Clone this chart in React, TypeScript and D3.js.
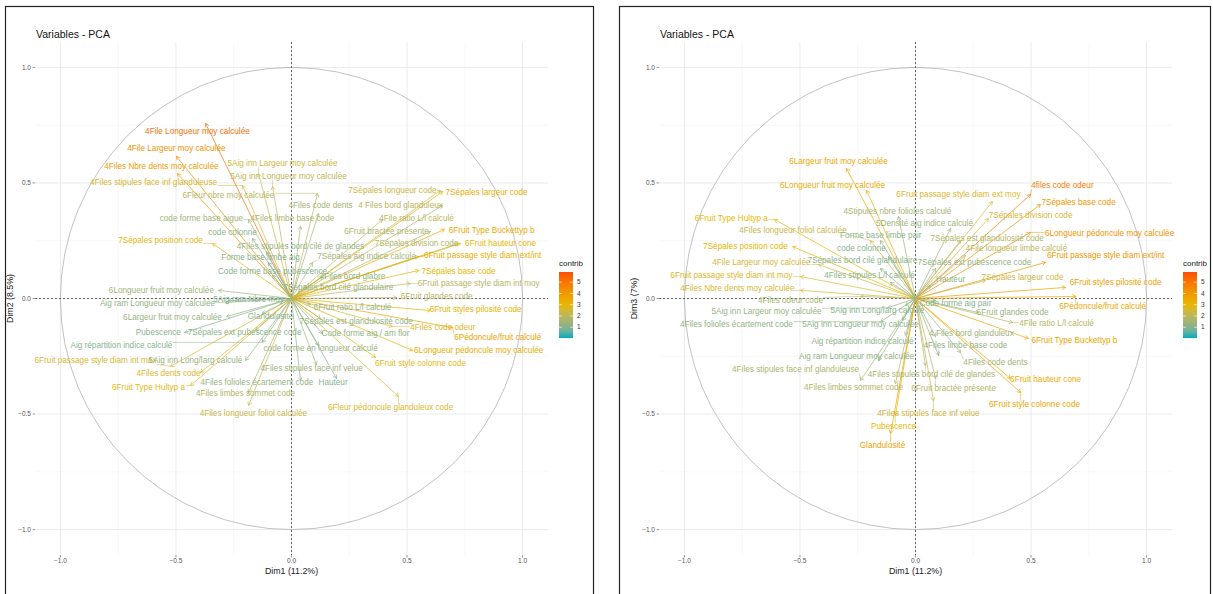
import React, { useRef, useEffect } from "react";
import * as d3 from "d3";

// [variable, dim x coord, dim y coord, contrib, label x, label y] (label = repelled text position)
type Row = [string, number, number, number, number, number];

const dim12Vars: Row[] = [
  ["4File Longueur moy calculée", -0.372, 0.758, 5.2, -0.407, 0.723],
  ["4File Largeur moy calculée", -0.498, 0.615, 4.2, -0.498, 0.649],
  ["4Files Nbre dents moy calculée", -0.494, 0.541, 3.9, -0.563, 0.571],
  ["4Files stipules face inf glanduleuse", -0.212, 0.489, 2.6, -0.597, 0.502],
  ["5Aig inn Largeur moy calculée", -0.143, 0.541, 2.4, -0.039, 0.584],
  ["5Aig inn Longueur moy calculée", -0.082, 0.485, 2.1, -0.013, 0.528],
  ["6Fleur nbre moy calculée", 0.113, 0.455, 1.9, -0.273, 0.446],
  ["code forme base aigue", -0.186, 0.342, 1.4, -0.39, 0.346],
  ["4Files limbe base code", 0.039, 0.312, 1.6, 0.004, 0.346],
  ["code colonne", -0.169, 0.26, 1.1, -0.255, 0.286],
  ["7Sépales position code", -0.342, 0.238, 2.9, -0.567, 0.251],
  ["4Files stipules bord cilé de glandes", -0.108, 0.203, 1.3, 0.039, 0.225],
  ["Forme base limbe aig", -0.1, 0.156, 1.0, -0.134, 0.177],
  ["7Sépales aig indice calculé", 0.091, 0.156, 1.5, 0.325, 0.182],
  ["Code forme base pubescence", -0.082, 0.1, 1.0, -0.082, 0.117],
  ["4Files bord glabre", 0.134, 0.095, 1.2, 0.264, 0.095],
  ["7Sépales bord cilé glandulaire", 0.065, 0.052, 1.3, 0.203, 0.048],
  ["7Sépales longueur code", 0.645, 0.468, 2.4, 0.437, 0.468],
  ["7Sépales largeur code", 0.654, 0.463, 3.3, 0.844, 0.459],
  ["4Files code dents", 0.117, 0.368, 1.5, 0.126, 0.403],
  ["4 Files bord glanduleux", 0.654, 0.403, 1.9, 0.472, 0.403],
  ["4File ratio L/l calculé", 0.394, 0.342, 2.0, 0.541, 0.346],
  ["6Fruit bractée présente", 0.602, 0.29, 1.7, 0.411, 0.29],
  ["6Fruit Type Buckettyp b", 0.662, 0.299, 3.5, 0.866, 0.294],
  ["7Sépales division code", 0.723, 0.238, 1.8, 0.541, 0.238],
  ["6Fruit hauteur cone", 0.732, 0.238, 3.0, 0.905, 0.238],
  ["6Fruit passage style diam ext/int", 0.55, 0.182, 3.3, 0.827, 0.186],
  ["7Sépales base code", 0.55, 0.121, 3.0, 0.723, 0.117],
  ["6Fruit passage style diam int moy", 0.515, 0.065, 1.9, 0.81, 0.065],
  ["6Fruit glandes code", 0.455, 0.004, 1.8, 0.628, 0.009],
  ["6Fruit styles pilosité code", 0.602, -0.052, 3.1, 0.797, -0.048],
  ["7Sépales est glandulosité code", 0.126, -0.087, 1.2, 0.28, -0.098],
  ["4Files code odeur", 0.437, -0.121, 2.7, 0.655, -0.126],
  ["6Pédoncule/fruit calculé", 0.697, -0.126, 3.7, 0.892, -0.169],
  ["Code forme aig / am flor", 0.134, -0.152, 1.2, 0.32, -0.152],
  ["6Longueur pédoncule moy calculée", 0.524, -0.225, 3.3, 0.81, -0.225],
  ["code forme en longueur calculé", 0.117, -0.203, 1.3, 0.126, -0.216],
  ["6Fruit style colonne code", 0.364, -0.255, 2.9, 0.558, -0.281],
  ["4Files stipules face inf velue", 0.108, -0.286, 1.4, 0.087, -0.303],
  ["4Files folioles écartement code", 0.039, -0.355, 1.3, -0.15, -0.364],
  ["Hauteur", 0.195, -0.346, 1.0, 0.18, -0.364],
  ["4Files limbes sommet code", -0.186, -0.407, 1.7, -0.199, -0.411],
  ["6Fleur pédoncule glanduleux code", 0.463, -0.424, 2.7, 0.429, -0.468],
  ["4Files longueur foliol calculée", -0.186, -0.463, 2.3, -0.165, -0.498],
  ["6Longueur fruit moy calculée", -0.316, 0.035, 1.4, -0.563, 0.035],
  ["Aig ram Longueur moy calculée", -0.286, -0.017, 1.2, -0.58, -0.022],
  ["5Aig ram Nbre moy", -0.273, -0.009, 1.0, -0.186, -0.004],
  ["6Largeur fruit moy calculée", -0.281, -0.078, 1.3, -0.515, -0.082],
  ["Pubescence", -0.463, -0.147, 1.0, -0.576, -0.147],
  ["7Sépales ext pubescence code", -0.156, -0.139, 1.1, -0.203, -0.147],
  ["Aig répartition indice calculé", -0.126, -0.19, 1.0, -0.736, -0.203],
  ["6Fruit passage style diam int max", -0.524, -0.294, 2.6, -0.848, -0.268],
  ["5Aig inn Long/larg calculé", -0.199, -0.268, 1.3, -0.416, -0.268],
  ["4Files dents code", -0.394, -0.32, 2.7, -0.532, -0.325],
  ["6Fruit Type Hultyp a", -0.437, -0.377, 2.8, -0.619, -0.385],
  ["Glandulosité", -0.126, -0.065, 1.1, -0.091, -0.078],
  ["6Fruit ratio L/l calculé", 0.082, -0.026, 1.2, 0.264, -0.039],
];

const dim13Vars: Row[] = [
  ["6Largeur fruit moy calculée", -0.299, 0.563, 3.5, -0.333, 0.593],
  ["6Longueur fruit moy calculée", -0.212, 0.468, 3.3, -0.359, 0.489],
  ["6Fruit passage style diam ext moy", 0.333, 0.42, 2.7, 0.186, 0.45],
  ["4Stipules nbre folioles calculé", -0.074, 0.355, 1.5, -0.078, 0.377],
  ["5Densité aig indice calculé", 0.152, 0.303, 1.4, 0.039, 0.325],
  ["6Fruit Type Hultyp a", -0.61, 0.342, 3.0, -0.797, 0.346],
  ["4Files longueur foliol calculée", -0.195, 0.251, 2.3, -0.53, 0.294],
  ["Forme base limbe pair", -0.152, 0.251, 1.1, -0.15, 0.275],
  ["7Sépales position code", -0.532, 0.225, 3.1, -0.736, 0.225],
  ["code colonne", -0.117, 0.182, 1.0, -0.234, 0.216],
  ["4File Largeur moy calculée", -0.42, 0.147, 2.5, -0.667, 0.156],
  ["7Sépales bord cilé glandulaire", -0.152, 0.13, 1.1, -0.23, 0.165],
  ["7Sépales ext pubescence code", 0.087, 0.13, 1.2, 0.255, 0.156],
  ["6Fruit passage style diam int moy", -0.498, 0.095, 2.7, -0.797, 0.1],
  ["4Files stipules L/l calculé", -0.108, 0.069, 1.1, -0.199, 0.1],
  ["4Files Nbre dents moy calculée", -0.498, 0.035, 2.6, -0.771, 0.043],
  ["4Files odeur code", -0.238, 0.009, 1.6, -0.541, -0.009],
  ["5Aig inn Largeur moy calculée", -0.12, -0.04, 1.3, -0.645, -0.056],
  ["5Aig inn Long/larg calculé", -0.043, -0.03, 1.0, -0.165, -0.052],
  ["4Files folioles écartement code", -0.15, -0.1, 1.2, -0.775, -0.113],
  ["5Aig inn Longueur moy calculée", -0.056, -0.095, 1.1, -0.238, -0.113],
  ["Aig répartition indice calculé", -0.043, -0.16, 1.1, -0.229, -0.186],
  ["Aig ram Longueur moy calculée", -0.16, -0.268, 1.2, -0.255, -0.251],
  ["4Files stipules face inf glanduleuse", -0.238, -0.355, 1.7, -0.519, -0.307],
  ["4Files limbes sommet code", -0.087, -0.368, 1.8, -0.268, -0.385],
  ["4Files stipules bord cilé de glandes", 0.043, -0.29, 1.6, 0.069, -0.329],
  ["6Fruit bractée présente", 0.087, -0.346, 1.8, 0.165, -0.39],
  ["4Files stipules face inf velue", 0.078, -0.442, 2.4, 0.056, -0.498],
  ["Pubescence", -0.087, -0.506, 3.0, -0.095, -0.554],
  ["Glandulosité", -0.108, -0.584, 3.8, -0.143, -0.636],
  ["4 Files bord glanduleux", 0.087, -0.165, 1.4, 0.242, -0.152],
  ["4Files limbe base code", 0.1, -0.247, 1.2, 0.216, -0.203],
  ["4Files code dents", 0.195, -0.234, 1.4, 0.346, -0.277],
  ["6Fruit hauteur cone", 0.411, -0.346, 3.4, 0.563, -0.351],
  ["6Fruit style colonne code", 0.455, -0.407, 3.6, 0.515, -0.459],
  ["6Fruit glandes code", 0.273, -0.061, 1.4, 0.42, -0.061],
  ["4File ratio L/l calculé", 0.42, -0.104, 1.9, 0.61, -0.108],
  ["6Fruit Type Buckettyp b", 0.489, -0.173, 3.6, 0.688, -0.182],
  ["6Pédoncule/fruit calculé", 0.693, 0.009, 3.5, 0.81, -0.035],
  ["6Fruit styles pilosité code", 0.649, 0.048, 3.8, 0.866, 0.069],
  ["6Fruit passage style diam ext/int", 0.563, 0.156, 4.0, 0.823, 0.186],
  ["6Longueur pédoncule moy calculée", 0.498, 0.286, 4.1, 0.84, 0.281],
  ["4files code odeur", 0.498, 0.45, 4.8, 0.636, 0.489],
  ["7Sépales base code", 0.541, 0.407, 4.1, 0.706, 0.416],
  ["7Sépales division code", 0.316, 0.346, 2.6, 0.498, 0.359],
  ["7Sépales est glandulosité code", 0.195, 0.251, 1.8, 0.31, 0.262],
  ["4File longueur limbe calculé", 0.216, 0.186, 2.0, 0.437, 0.216],
  ["7Sépales largeur code", 0.303, 0.078, 2.3, 0.463, 0.091],
  ["Code forme aig pair", 0.087, -0.009, 1.0, 0.173, -0.022],
  ["Hauteur", 0.065, 0.056, 1.1, 0.152, 0.082],
];

const majorTicks = [-1, -0.5, 0, 0.5, 1];
const minorTicks = [-0.75, -0.25, 0.25, 0.75];
const legendTicks = [1, 2, 3, 4, 5];
const contribDomain = [0.05, 2.98, 5.9];
const contribColors = ["#00AFBB", "#E7B800", "#FC4E07"];

const panels = [
  { title: "Variables - PCA", xLab: "Dim1 (11.2%)", yLab: "Dim2 (8.5%)", rows: dim12Vars, shift: 0, box: [5, 593] },
  { title: "Variables - PCA", xLab: "Dim1 (11.2%)", yLab: "Dim3 (7%)", rows: dim13Vars, shift: 624, box: [619, 1210] },
];

const FONT = "'Liberation Sans', Arial, sans-serif";

export default function App() {
  const svgRef = useRef<SVGSVGElement>(null);

  useEffect(() => {
    document.body.style.margin = "0";
    const svg = d3.select(svgRef.current);
    svg.selectAll("*").remove();

    const color = d3.scaleLinear<string>().domain(contribDomain).range(contribColors).interpolate(d3.interpolateLab).clamp(true);

    panels.forEach((p, pi) => {
      // panel frame
      svg.append("rect")
        .attr("x", p.box[0] + 0.5).attr("y", 6.5)
        .attr("width", p.box[1] - p.box[0]).attr("height", 620)
        .attr("fill", "#fff").attr("stroke", "#222").attr("stroke-width", 1.2);

      const g = svg.append("g").attr("transform", `translate(${p.shift},0)`);
      const x = d3.scaleLinear().domain([-1.11, 1.11]).range([35, 548]);
      const y = d3.scaleLinear().domain([-1.11, 1.11]).range([555, 42]);

      // grid
      const grid = g.append("g");
      minorTicks.forEach(t => {
        grid.append("line").attr("x1", x(t)).attr("x2", x(t)).attr("y1", 42).attr("y2", 555).attr("stroke", "#f2f2f2").attr("stroke-width", 0.6);
        grid.append("line").attr("y1", y(t)).attr("y2", y(t)).attr("x1", 35).attr("x2", 548).attr("stroke", "#f2f2f2").attr("stroke-width", 0.6);
      });
      majorTicks.forEach(t => {
        grid.append("line").attr("x1", x(t)).attr("x2", x(t)).attr("y1", 42).attr("y2", 555).attr("stroke", "#ebebeb").attr("stroke-width", 1);
        grid.append("line").attr("y1", y(t)).attr("y2", y(t)).attr("x1", 35).attr("x2", 548).attr("stroke", "#ebebeb").attr("stroke-width", 1);
      });

      // axes ticks and labels
      const fmt = d3.format(".1f");
      majorTicks.forEach(t => {
        g.append("line").attr("x1", x(t)).attr("x2", x(t)).attr("y1", 555).attr("y2", 557.5).attr("stroke", "#555").attr("stroke-width", 0.6);
        g.append("text").attr("x", x(t)).attr("y", 563).attr("text-anchor", "middle")
          .attr("font-size", 6.5).attr("fill", "#555").text(fmt(t));
        g.append("line").attr("x1", 32.5).attr("x2", 35).attr("y1", y(t)).attr("y2", y(t)).attr("stroke", "#555").attr("stroke-width", 0.6);
        g.append("text").attr("x", 31).attr("y", y(t) + 2.2).attr("text-anchor", "end")
          .attr("font-size", 6.5).attr("fill", "#555").text(fmt(t));
      });
      g.append("text").attr("x", x(0)).attr("y", 574).attr("text-anchor", "middle").attr("font-size", 8.8).attr("fill", "#222").text(p.xLab);
      g.append("text").attr("transform", `translate(13,${y(0)}) rotate(-90)`).attr("text-anchor", "middle").attr("font-size", 8.8).attr("fill", "#222").text(p.yLab);
      g.append("text").attr("x", 36).attr("y", 38).attr("font-size", 10.5).attr("fill", "#111").text(p.title);

      // correlation circle and zero lines
      g.append("circle").attr("cx", x(0)).attr("cy", y(0)).attr("r", x(1) - x(0))
        .attr("fill", "none").attr("stroke", "#a8a8a8").attr("stroke-width", 0.7);
      g.append("line").attr("x1", x(0)).attr("x2", x(0)).attr("y1", 42).attr("y2", 555).attr("stroke", "#444").attr("stroke-width", 0.8).attr("stroke-dasharray", "2,2");
      g.append("line").attr("y1", y(0)).attr("y2", y(0)).attr("x1", 35).attr("x2", 548).attr("stroke", "#444").attr("stroke-width", 0.8).attr("stroke-dasharray", "2,2");

      // arrows
      const arrows = g.append("g");
      p.rows.forEach(([, vx, vy, c]) => {
        const x1 = x(vx), y1 = y(vy), x0 = x(0), y0 = y(0);
        const col = color(c);
        arrows.append("line").attr("x1", x0).attr("y1", y0).attr("x2", x1).attr("y2", y1)
          .attr("stroke", col).attr("stroke-width", 0.7);
        const ang = Math.atan2(y1 - y0, x1 - x0);
        const h = 4;
        const a1 = ang + Math.PI - Math.PI / 6, a2 = ang + Math.PI + Math.PI / 6;
        arrows.append("path")
          .attr("d", `M${x1 + h * Math.cos(a1)},${y1 + h * Math.sin(a1)}L${x1},${y1}L${x1 + h * Math.cos(a2)},${y1 + h * Math.sin(a2)}`)
          .attr("fill", "none").attr("stroke", col).attr("stroke-width", 0.7);
      });

      // labels with repel segments
      const labels = g.append("g");
      p.rows.forEach(([name, vx, vy, c, lx, ly]) => {
        const col = color(c);
        const t = labels.append("text").attr("x", x(lx)).attr("y", y(ly)).attr("dy", "0.35em")
          .attr("text-anchor", "middle").attr("font-size", 8.2).attr("fill", col).text(name);
        const bb = (t.node() as SVGTextElement).getBBox();
        const tx = x(vx), ty = y(vy);
        const cx = Math.max(bb.x, Math.min(tx, bb.x + bb.width));
        const cy = Math.max(bb.y + 1, Math.min(ty, bb.y + bb.height - 1));
        if (Math.hypot(tx - cx, ty - cy) > 5) {
          labels.insert("line", ":first-child").attr("x1", cx).attr("y1", cy).attr("x2", tx).attr("y2", ty)
            .attr("stroke", col).attr("stroke-width", 0.5);
        }
      });

      // legend
      const ly = d3.scaleLinear().domain([contribDomain[0], contribDomain[2]]).range([338, 272]);
      const gid = `contrib-grad-${pi}`;
      const grad = svg.append("defs").append("linearGradient").attr("id", gid)
        .attr("x1", 0).attr("y1", 1).attr("x2", 0).attr("y2", 0);
      d3.range(0, 1.0001, 0.1).forEach(f => {
        const v = contribDomain[0] + f * (contribDomain[2] - contribDomain[0]);
        grad.append("stop").attr("offset", f).attr("stop-color", color(v));
      });
      const leg = g.append("g");
      leg.append("text").attr("x", 559).attr("y", 266).attr("font-size", 8).attr("fill", "#222").text("contrib");
      leg.append("rect").attr("x", 559).attr("y", 272).attr("width", 14).attr("height", 66).attr("fill", `url(#${gid})`);
      legendTicks.forEach(v => {
        leg.append("line").attr("x1", 559).attr("x2", 562).attr("y1", ly(v)).attr("y2", ly(v)).attr("stroke", "#fff").attr("stroke-width", 0.6);
        leg.append("line").attr("x1", 570).attr("x2", 573).attr("y1", ly(v)).attr("y2", ly(v)).attr("stroke", "#fff").attr("stroke-width", 0.6);
        leg.append("text").attr("x", 577).attr("y", ly(v) + 2.2).attr("font-size", 6.5).attr("fill", "#333").text(v);
      });
    });
  }, []);

  return <svg ref={svgRef} width={1213} height={594} style={{ display: "block", background: "#fff", fontFamily: FONT }} />;
}
